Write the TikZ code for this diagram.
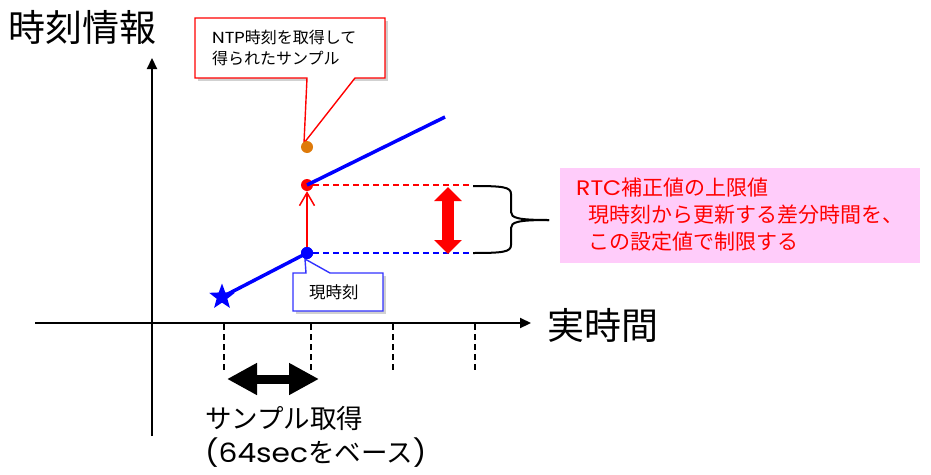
\documentclass[tikz,border=0pt]{standalone}
\usepackage{fontspec}
\setmainfont{Noto Sans CJK JP}
\newfontfamily\latf[FakeStretch=1.12]{Poppins}
\usetikzlibrary{arrows.meta,shapes.geometric}
\definecolor{pinkbg}{RGB}{255,204,250}
\definecolor{orangedot}{RGB}{222,122,10}
\definecolor{calloutblue}{RGB}{50,50,255}
\begin{document}
\begin{tikzpicture}[x=1pt,y=-1pt,
  axisline/.style={line width=2.2pt,-{Triangle[length=11pt,width=10pt]}},
  tickline/.style={line width=1.6pt,dash pattern=on 6pt off 4pt},
  dotnode/.style={circle,inner sep=0pt,minimum size=12pt},
  bluepath/.style={blue,line width=3.5pt},
  guide/.style={line width=1.6pt,dash pattern=on 6pt off 4pt},
  bigtxt/.style={anchor=west,inner sep=0pt,font=\fontsize{37}{40}\selectfont},
  midtxt/.style={anchor=west,inner sep=0pt,font=\fontsize{26.5}{30}\selectfont},
  boxtxt/.style={anchor=west,inner sep=0pt,text=red,font=\fontsize{21}{24}\selectfont},
  calltxt/.style={anchor=west,inner sep=0pt,font=\fontsize{16}{18}\selectfont},
  shadowfill/.style={fill=black!18,draw=none}
]
\useasboundingbox (0,0) rectangle (931,474);

% title and axis labels
\node[bigtxt] (title) at (8,27) {時刻情報};
\node[bigtxt] (xlabel) at (547,325) {実時間};

% axes
\coordinate (xs) at (35,323);
\coordinate (xe) at (531,323);
\coordinate (ys) at (152,436);
\coordinate (ye) at (152,58);
\draw[axisline] (xs) -- (xe);
\draw[axisline] (ys) -- (ye);

% dashed ticks
\foreach \x/\n in {224/a,311/b,393/c,475/d}{
  \coordinate (t\n top) at (\x,324);
  \coordinate (t\n bot) at (\x,373);
  \draw[tickline] (t\n top) -- (t\n bot);
}

% sample interval arrow
\coordinate (sa) at (227,379);
\coordinate (sb) at (319,379);
\draw[line width=9pt,{Triangle[length=30pt,width=30pt]}-{Triangle[length=30pt,width=30pt]}] (sa) -- (sb);
\node[midtxt] (samp1) at (205,418) {サンプル取得};
\node[midtxt] (samp2) at (205,453) {{\latf(64sec}をベース{\latf)}};

% callout: NTP sample
\fill[shadowfill] (198,21) -- (388,21) -- (388,81) -- (198,81) -- cycle;
\draw[red,line width=1.4pt,fill=white,line join=miter]
  (195,18) -- (385,18) -- (385,78) -- (355,78) -- (304,143) -- (307,78) -- (195,78) -- cycle;
\node[calltxt] (ntp1) at (212,37) {{\latf NTP}時刻を取得して};
\node[calltxt] (ntp2) at (212,58) {得られたサンプル};

% dots
\node[dotnode,fill=orangedot] (odot) at (307,147) {};
\node[dotnode,fill=red] (rdot) at (307,185) {};
\node[dotnode,fill=blue] (bdot) at (307,253) {};
\node[star,star points=5,star point ratio=2.4,minimum size=27pt,inner sep=0pt,fill=blue] (st) at (222,297) {};

% blue time lines
\coordinate (upend) at (445,117);
\draw[bluepath] (st.center) -- (bdot.center);
\draw[bluepath] (rdot.center) -- (upend);

% red correction arrow
\draw[red,line width=1.5pt,-{Straight Barb[length=13pt,width=15pt]}] (bdot) -- (rdot);

% guide lines
\coordinate (rg) at (470,185);
\coordinate (bg) at (470,253);
\draw[guide,red] (rdot) -- (rg);
\draw[guide,blue] (bdot) -- (bg);

% red limit arrow
\coordinate (la) at (448,187);
\coordinate (lb) at (448,254);
\draw[red,line width=12pt,{Triangle[length=14pt,width=27pt]}-{Triangle[length=14pt,width=27pt]}] (la) -- (lb);

% brace
\coordinate (brt) at (473,186);
\coordinate (brb) at (473,253);
\coordinate (brtip) at (549,220);
\draw[line width=2pt]
  (brt) .. controls (503,186) and (511,187) .. (511,194) -- (511,212)
  .. controls (511,218) and (518,220) .. (brtip);
\draw[line width=2pt]
  (brb) .. controls (503,253) and (511,252) .. (511,245) -- (511,228)
  .. controls (511,222) and (518,220) .. (brtip);

% callout: current time
\fill[shadowfill] (296,276) -- (386,276) -- (386,314) -- (296,314) -- cycle;
\draw[calloutblue,line width=1.4pt,fill=white,line join=miter]
  (293,273) -- (306,273) -- (305,259) -- (330,273) -- (383,273) -- (383,311) -- (293,311) -- cycle;
\node[calltxt,font=\fontsize{16.5}{18}\selectfont] (now) at (309,292) {現時刻};
\node[dotnode,fill=blue] (bdot2) at (bdot) {};

% pink note box
\node[fill=pinkbg,minimum width=360pt,minimum height=95pt,inner sep=0pt,anchor=north west] (note) at (560,168) {};
\node[boxtxt] (n1) at (576,188) {{\latf RTC}補正値の上限値};
\node[boxtxt] (n2) at (588,215) {現時刻から更新する差分時間を、};
\node[boxtxt] (n3) at (588,242) {この設定値で制限する};
\end{tikzpicture}
\end{document}
